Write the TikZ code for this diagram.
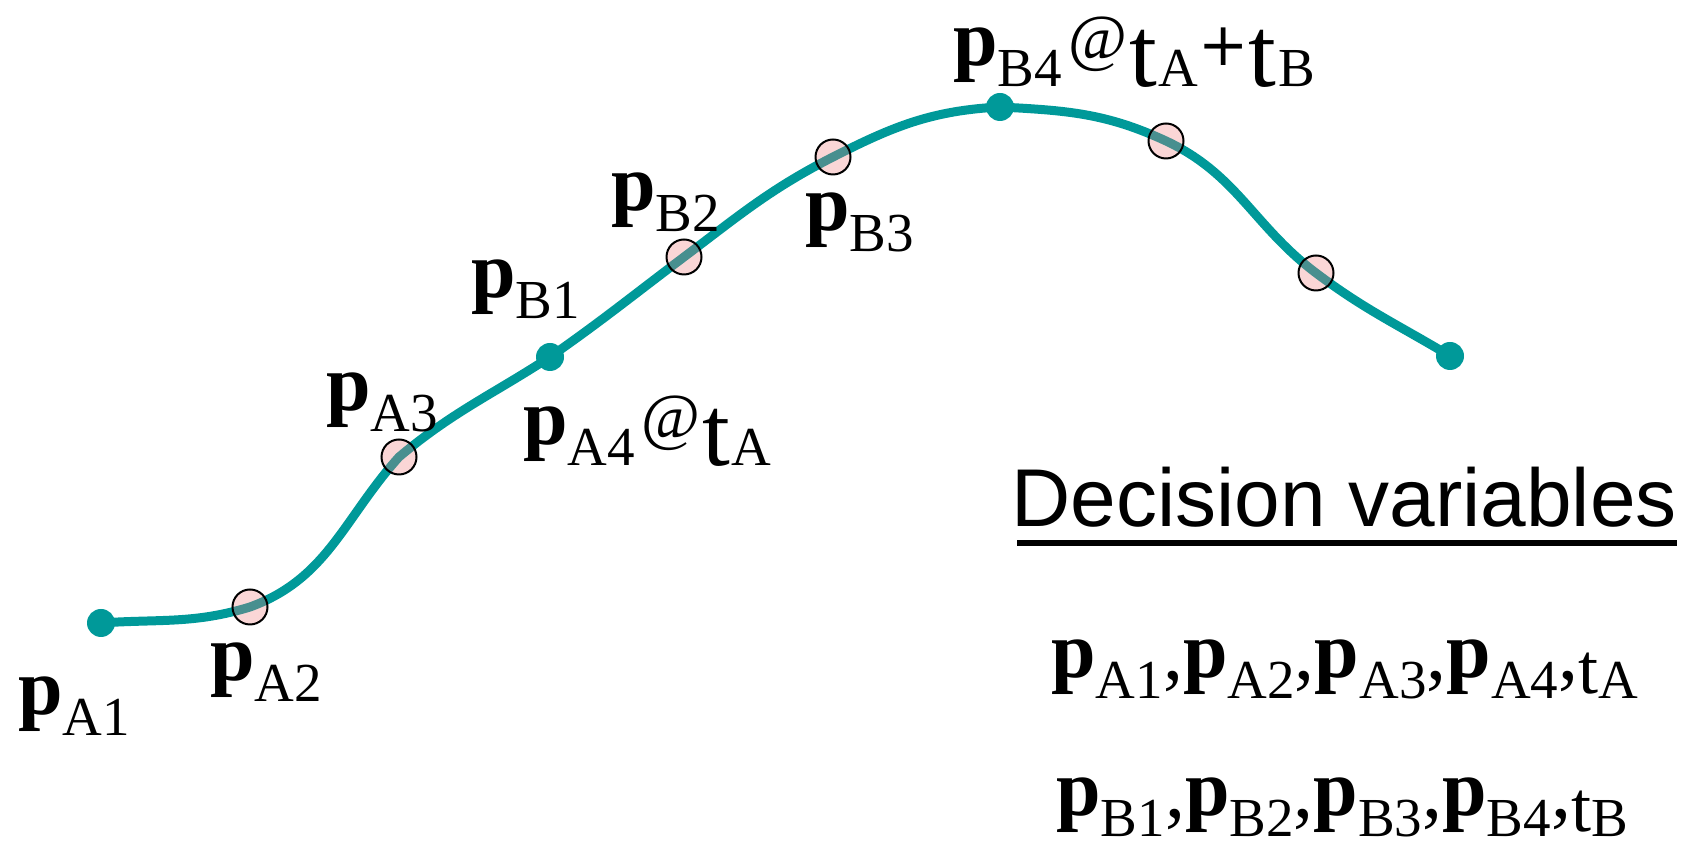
\documentclass[tikz,border=0pt]{standalone}
\usepackage{fontspec}
\setmainfont{Liberation Serif}
\newfontfamily\arialfont{Liberation Sans}
\newfontfamily\signfont{DejaVu Serif}
\definecolor{Teal}{HTML}{009999}
\definecolor{Dotty}{HTML}{F07878}
\newcommand{\subtxt}[1]{\raisebox{-10.5pt}{\fontsize{27.5}{30}\selectfont #1}}
\newcommand{\pvec}[1]{{\fontsize{40}{48}\selectfont\textbf{p}}\subtxt{#1}}
\newcommand{\attime}{\hspace{3pt}\raisebox{3pt}{\fontsize{32}{36}\selectfont @}\hspace{1pt}}
\newcommand{\tbig}[1]{\raisebox{-10.5pt}{\fontsize{50}{54}\selectfont t}\hspace{1pt}\subtxt{#1}}
\newcommand{\plussign}{\raisebox{0pt}{\signfont\fontsize{30}{34}\selectfont +}}
\newcommand{\tsmall}[1]{\raisebox{-8pt}{\fontsize{36}{40}\selectfont t}\subtxt{#1}}
\newcommand{\cm}{\raisebox{-1pt}{\fontsize{40}{48}\selectfont ,}}
\tikzset{traj/.style={Teal,line width=4.5pt},knot/.style={circle,fill=Teal,inner sep=0pt,minimum size=14pt},via/.style={circle,draw=black,line width=1pt,fill=Dotty,fill opacity=.3,inner sep=0pt,minimum size=17.5pt},lbl/.style={inner sep=0pt,anchor=base west,font=\fontsize{40}{48}\selectfont}}
\begin{document}
\begin{tikzpicture}[x=.5pt,y=.5pt]
        \useasboundingbox (0,0) rectangle (1697,850);
        % points on the trajectory
        \coordinate (A1) at (101,227);
        \coordinate (A2) at (250,243);
        \coordinate (A3) at (399,393);
        \coordinate (A4) at (550,493);
        \coordinate (B2) at (684,593);
        \coordinate (B3) at (833,693);
        \coordinate (B4) at (1000,743);
        \coordinate (C2) at (1166,709);
        \coordinate (C3) at (1316,577);
        \coordinate (C4) at (1450,494);
        \draw[traj](A1)to[out=4,in=197](A2)to[out=20,in=228](A3)to[out=40,in=213](A4)to[out=35,in=217](B2)to[out=37,in=207](B3)to[out=27,in=183](B4)to[out=-3,in=155](C2)to[out=-25,in=143](C3)to[out=-37,in=149](C4);
        \foreach \c in {A1,A4,B4,C4}\node[knot](k\c)at(\c){};
        \foreach \c in {A2,A3,B2,B3,C2,C3}\node[via](v\c)at(\c){};
        % labels
        \node[lbl](lA1)at(18,135){\pvec{A1}};
        \node[lbl](lA2)at(210,169){\pvec{A2}};
        \node[lbl](lA3)at(326,439){\pvec{A3}};
        \node[lbl](lA4)at(523,405){\pvec{A4}\attime\tbig{A}};
        \node[lbl](lB1)at(471,552){\pvec{B1}};
        \node[lbl](lB2)at(611,639){\pvec{B2}};
        \node[lbl](lB3)at(805,619){\pvec{B3}};
        \node[lbl](lB4)at(953,784){\pvec{B4}\attime\tbig{A}\plussign\tbig{B}};
        % decision variables
        \node[inner sep=0pt,anchor=base west,font=\arialfont\fontsize{41}{48}\selectfont](dec)at(1011,323){Decision variables};
        \draw[line width=3pt]([xshift=3pt,yshift=-8pt]dec.base west)--([yshift=-8pt]dec.base east);
        \node[lbl](varA)at(1051,172){\pvec{A1}\cm\pvec{A2}\cm\pvec{A3}\cm\pvec{A4}\cm\tsmall{A}};
        \node[lbl](varB)at(1056,34){\pvec{B1}\cm\pvec{B2}\cm\pvec{B3}\cm\pvec{B4}\cm\tsmall{B}};
      \end{tikzpicture}
\end{document}
